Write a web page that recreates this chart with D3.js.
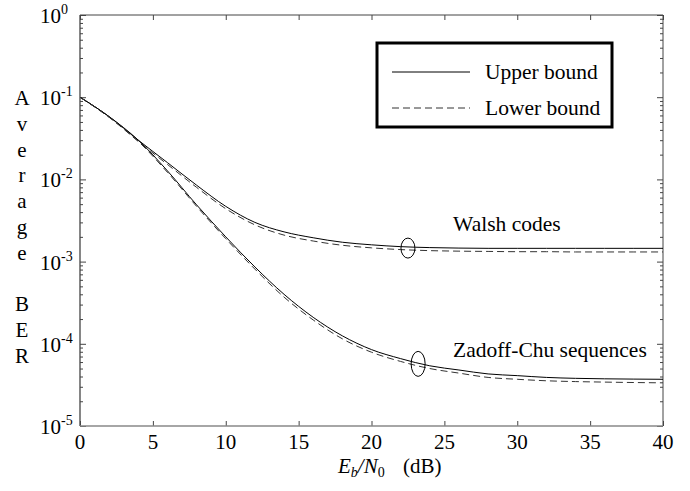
<!DOCTYPE html>
<html>
<head>
<meta charset="utf-8">
<script src="https://cdn.jsdelivr.net/npm/d3@7"></script>
<style>
  body { margin: 0; background: #fff; }
  svg text { font-family: "Liberation Serif", "DejaVu Serif", serif; fill: #000; }
</style>
</head>
<body>
<svg id="chart" width="690" height="491" font-family="Liberation Serif, DejaVu Serif, serif"></svg>
<script>
// Eb/N0 in dB
var snr = [0, 2, 4, 6, 8, 10, 12, 14, 16, 18, 20, 22, 24, 26, 28, 30, 32, 34, 36, 38, 40];

// average BER
var walshUpper = [0.1, 0.058, 0.030, 0.0160, 0.0085, 0.0047, 0.0030, 0.0023, 0.00195, 0.00172, 0.00160,
                  0.00152, 0.00148, 0.00146, 0.00145, 0.00145, 0.00145, 0.00145, 0.00145, 0.00145, 0.00145];
var walshLower = [0.1, 0.057, 0.029, 0.0152, 0.0080, 0.0044, 0.0028, 0.0021, 0.00178, 0.00158, 0.00147,
                  0.00140, 0.00136, 0.00134, 0.00133, 0.00132, 0.00132, 0.00131, 0.00131, 0.00131, 0.00131];
var zcUpper = [0.1, 0.058, 0.030, 0.0127, 0.0049, 0.0020, 0.00086, 0.00040, 0.00021, 0.000125, 0.000085,
               0.000066, 0.000054, 0.000048, 0.000043, 0.000041, 0.000039, 0.000038, 0.0000375, 0.0000372, 0.000037];
var zcLower = [0.1, 0.057, 0.029, 0.0122, 0.0047, 0.0019, 0.00081, 0.00037, 0.000195, 0.000115, 0.000079,
               0.000061, 0.000050, 0.000044, 0.000039, 0.0000370, 0.0000355, 0.0000347, 0.0000342, 0.0000338, 0.0000335];

var xTicks = [0, 5, 10, 15, 20, 25, 30, 35, 40];
var yExponents = [0, -1, -2, -3, -4, -5];
var yLabelLetters = ["A", "v", "e", "r", "a", "g", "e", " ", "B", "E", "R"];

var legendItems = ["Upper bound", "Lower bound"];
// annotation: [label, text x, text y, ellipse x, ellipse y]
var notes = [
  ["Walsh codes", 25.6, 2.36e-3, 22.5, 1.46e-3],
  ["Zadoff-Chu sequences", 25.6, 6.9e-5, 23.2, 5.7e-5]
];

var svg = d3.select("#chart"),
    margin = {top: 15, right: 27, bottom: 65, left: 80},
    width = +svg.attr("width") - margin.left - margin.right,
    height = +svg.attr("height") - margin.top - margin.bottom,
    g = svg.append("g").attr("transform", "translate(" + margin.left + "," + margin.top + ")");

var x = d3.scaleLinear().domain([0, 40]).range([0, width]);
var y = d3.scaleLog().domain([1e-5, 1]).range([height, 0]);

var majorY = yExponents.map(function (e) { return Math.pow(10, e); });
var minorY = [];
for (var e = -5; e < 0; e++) {
  for (var k = 2; k < 10; k++) minorY.push(k * Math.pow(10, e));
}

function styleAxis(sel, col) {
  sel.select(".domain").remove();
  sel.selectAll("line").attr("stroke", col);
}

// ticks, all pointing inward
g.append("g").call(d3.axisLeft(y).tickValues(majorY).tickSize(-6).tickFormat("")).call(styleAxis, "#444");
g.append("g").call(d3.axisLeft(y).tickValues(minorY).tickSize(-3).tickFormat("")).call(styleAxis, "#444");
g.append("g").attr("transform", "translate(" + width + ",0)")
 .call(d3.axisRight(y).tickValues(majorY).tickSize(-6).tickFormat("")).call(styleAxis, "#444");
g.append("g").attr("transform", "translate(" + width + ",0)")
 .call(d3.axisRight(y).tickValues(minorY).tickSize(-3).tickFormat("")).call(styleAxis, "#444");
g.append("g").attr("transform", "translate(0," + height + ")")
 .call(d3.axisBottom(x).tickValues(xTicks).tickSize(-5).tickFormat("")).call(styleAxis, "#444");
g.append("g")
 .call(d3.axisTop(x).tickValues(xTicks).tickSize(-5).tickFormat("")).call(styleAxis, "#444");

// frame
g.append("line").attr("x1", 0).attr("x2", 0).attr("y1", 0).attr("y2", height).attr("stroke", "#444").attr("stroke-width", 1.3);
g.append("line").attr("x1", width).attr("x2", width).attr("y1", 0).attr("y2", height).attr("stroke", "#444");
g.append("line").attr("x1", 0).attr("x2", width).attr("y1", 0).attr("y2", 0).attr("stroke", "#444");
g.append("line").attr("x1", 0).attr("x2", width).attr("y1", height).attr("y2", height).attr("stroke", "#888").attr("stroke-width", 1.3);

// x tick labels
g.selectAll(".xlab").data(xTicks).enter().append("text")
 .attr("x", function (d) { return x(d); })
 .attr("y", height + 23)
 .attr("text-anchor", "middle")
 .style("font-size", "21px")
 .text(function (d) { return d; });

// y tick labels 10^n
var yl = g.selectAll(".ylab").data(yExponents).enter().append("text")
 .attr("x", -40)
 .attr("y", function (d) { return y(Math.pow(10, d)) + 8; })
 .style("font-size", "21px");
yl.append("tspan").text("10");
yl.append("tspan").attr("dy", -9).style("font-size", "14px").text(function (d) { return d; });

// y label, one letter per row
svg.selectAll(".yletter").data(yLabelLetters).enter().append("text")
 .attr("x", 22)
 .attr("y", function (d, i) { return 105 + i * 25.8; })
 .attr("text-anchor", "middle")
 .style("font-size", "21px")
 .text(function (d) { return d; });

// x label
var xl = svg.append("text").attr("x", 338).attr("y", 473).style("font-size", "21px");
xl.append("tspan").style("font-style", "italic").text("E");
xl.append("tspan").attr("dy", 4).style("font-size", "14px").style("font-style", "italic").text("b");
xl.append("tspan").attr("dy", -4).style("font-style", "italic").text("/N");
xl.append("tspan").attr("dy", 4).style("font-size", "14px").text("0");
xl.append("tspan").attr("dy", -4).attr("x", 403).text("(dB)");

// curves
var line = d3.line()
  .x(function (d, i) { return x(snr[i]); })
  .y(function (d) { return y(d); })
  .curve(d3.curveMonotoneX);

var series = [
  {v: walshUpper, dash: null},
  {v: walshLower, dash: "7,4"},
  {v: zcUpper, dash: null},
  {v: zcLower, dash: "7,4"}
];
g.selectAll(".curve").data(series).enter().append("path")
 .attr("d", function (d) { return line(d.v); })
 .attr("fill", "none")
 .attr("stroke", function (d) { return d.dash ? "#333" : "#000"; })
 .attr("stroke-width", 1)
 .attr("stroke-dasharray", function (d) { return d.dash; });

// annotations
g.selectAll(".note").data(notes).enter().append("text")
 .attr("x", function (d) { return x(d[1]); })
 .attr("y", function (d) { return y(d[2]); })
 .style("font-size", "21.5px")
 .text(function (d) { return d[0]; });
g.selectAll(".ell").data(notes).enter().append("ellipse")
 .attr("cx", function (d) { return x(d[3]); })
 .attr("cy", function (d) { return y(d[4]); })
 .attr("rx", 7)
 .attr("ry", function (d, i) { return i === 0 ? 10 : 12.5; })
 .attr("fill", "none")
 .attr("stroke", "#000");

// legend
var lg = svg.append("g").attr("transform", "translate(377,43)");
lg.append("rect").attr("width", 235).attr("height", 84)
  .attr("fill", "#fff").attr("stroke", "#000").attr("stroke-width", 3);
var li = lg.selectAll(".li").data(legendItems).enter().append("g")
  .attr("transform", function (d, i) { return "translate(0," + (29 + i * 36) + ")"; });
li.append("line").attr("x1", 15).attr("x2", 93)
  .attr("stroke", function (d, i) { return i ? "#333" : "#000"; })
  .attr("stroke-dasharray", function (d, i) { return i ? "7,4" : null; });
li.append("text").attr("x", 108).attr("y", 7).style("font-size", "21.5px").text(function (d) { return d; });
</script>
</body>
</html>
